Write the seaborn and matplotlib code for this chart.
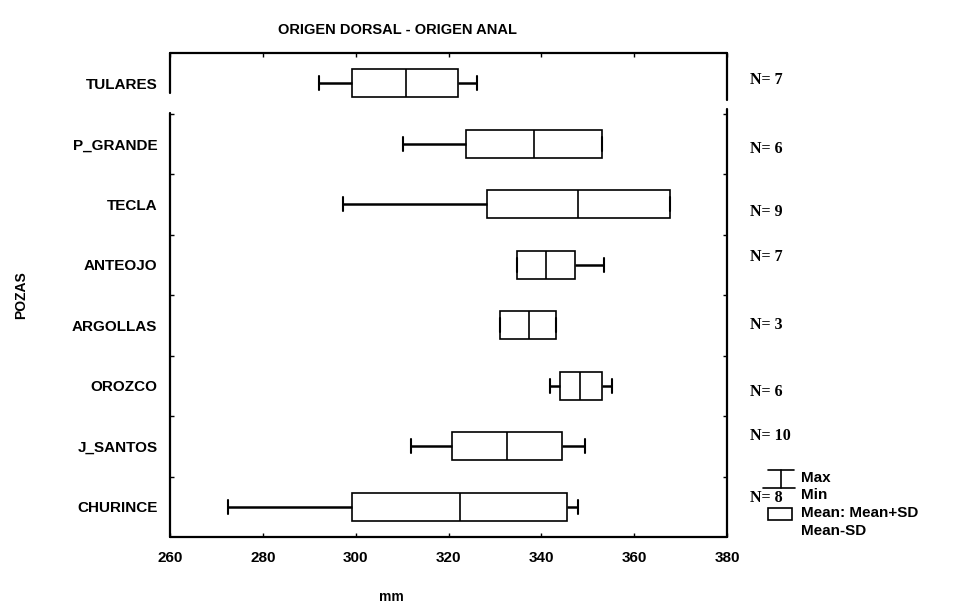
import matplotlib
matplotlib.use("Agg")
import matplotlib.pyplot as plt
from matplotlib.lines import Line2D
from matplotlib.patches import Rectangle
import numpy as np
import pandas as pd
import seaborn as sns

# data (mm)
pozas = ["TULARES", "P_GRANDE", "TECLA", "ANTEOJO", "ARGOLLAS", "OROZCO", "J_SANTOS", "CHURINCE"]
minimo = [292.0, 310.2, 297.2, 334.8, 331.0, 341.8, 312.0, 272.5]
media_menos_sd = [299.2, 323.8, 328.4, 334.8, 331.0, 344.0, 320.8, 299.3]
media = [310.8, 338.4, 348.0, 341.0, 337.3, 348.4, 332.6, 322.4]
media_mas_sd = [322.1, 353.0, 367.8, 347.2, 343.2, 353.0, 344.4, 345.6]
maximo = [326.2, 353.0, 367.8, 353.4, 343.2, 355.2, 349.4, 347.8]
n_obs = [7, 6, 9, 7, 3, 6, 10, 8]
# small vertical nudges of the N labels (in category units)
n_nudge = [-0.05, 0.08, 0.13, -0.12, 0.0, 0.1, -0.17, -0.15]

# five points per poza -> quartiles land on mean-SD / mean / mean+SD, whiskers on min / max
filas = []
for i, p in enumerate(pozas):
    for v in (minimo[i], media_menos_sd[i], media[i], media_mas_sd[i], maximo[i]):
        filas.append({"poza": p, "mm": v})
df = pd.DataFrame(filas)

sns.set_style("white")
plt.rcParams["font.family"] = ["Liberation Sans", "DejaVu Sans"]
plt.rcParams["text.color"] = "black"
plt.rcParams["axes.labelcolor"] = "black"
plt.rcParams["xtick.color"] = "black"
plt.rcParams["ytick.color"] = "black"

fig = plt.figure(figsize=(9.76, 6.03), dpi=100)
ax = fig.add_axes([170 / 976, (603 - 537) / 603, 557 / 976, 484 / 603])

sns.boxplot(data=df, x="mm", y="poza", order=pozas, whis=(0, 100), width=0.47,
            color="white", linecolor="black", linewidth=1.2, ax=ax,
            whiskerprops={"linewidth": 1.8}, capprops={"linewidth": 1.5},
            medianprops={"linewidth": 1.2})

ax.set_xlim(260, 380)
ax.set_ylim(7.5, -0.5)
ax.set_xticks(np.arange(260, 381, 20))
ax.set_xlabel("mm", fontsize=10, fontweight="bold")
ax.set_ylabel("POZAS", fontsize=10, fontweight="bold")
ax.xaxis.set_label_coords(0.397, -0.11)
ax.yaxis.set_label_coords(-0.254, 0.5)
ax.tick_params(axis="x", direction="in", length=3, top=True, bottom=True,
               labelsize=11, pad=10, width=1)
ax.tick_params(axis="y", which="major", length=0, labelsize=11, pad=9)
for lab in ax.get_xticklabels() + ax.get_yticklabels():
    lab.set_fontweight("bold")
ax.set_yticks(np.arange(0.5, 7.5, 1), minor=True)
ax.tick_params(axis="y", which="minor", direction="in", length=3, left=True, right=True, width=1)

# frame with the small breaks seen in the scan
for s in ax.spines.values():
    s.set_visible(False)
negro = dict(color="black", linewidth=1.6, transform=ax.transAxes, clip_on=False)
ax.add_line(Line2D([0, 1], [1, 1], **negro))
ax.add_line(Line2D([0, 1], [0, 0], **negro))
ax.add_line(Line2D([0, 0], [1, 0.918], **negro))
ax.add_line(Line2D([0, 0], [0.876, 0], **negro))
ax.add_line(Line2D([1, 1], [1, 0.903], **negro))
ax.add_line(Line2D([1, 1], [0.884, 0], **negro))

# N labels on the right
for i, n in enumerate(n_obs):
    ax.text(1.042, i + n_nudge[i], f"N= {n}", transform=ax.get_yaxis_transform(),
            ha="left", va="center", fontsize=11.5, fontweight="bold", family="Liberation Serif")

fig.text(397 / 976, 1 - 30 / 603, "ORIGEN DORSAL - ORIGEN ANAL", ha="center", va="center",
         fontsize=10.5, fontweight="bold")

# legend (drawn in figure pixels)
def fx(px):
    return px / 976

def fy(py):
    return 1 - py / 603

leyenda = dict(color="black", linewidth=1.2, transform=fig.transFigure)
fig.add_artist(Line2D([fx(768), fx(794)], [fy(470), fy(470)], **leyenda))
fig.add_artist(Line2D([fx(763), fx(795)], [fy(488), fy(488)], **leyenda))
fig.add_artist(Line2D([fx(781), fx(781)], [fy(470), fy(488)], **leyenda))
fig.add_artist(Rectangle((fx(768), fy(520)), fx(24), 12 / 603, fill=False,
                         edgecolor="black", linewidth=1.2, transform=fig.transFigure))
for txt, py in [("Max", 478), ("Min", 495), ("Mean: Mean+SD", 513), ("Mean-SD", 531)]:
    fig.text(fx(801), fy(py), txt, ha="left", va="center", fontsize=11, fontweight="bold")

fig.savefig("out.png", dpi=100, facecolor="white")
